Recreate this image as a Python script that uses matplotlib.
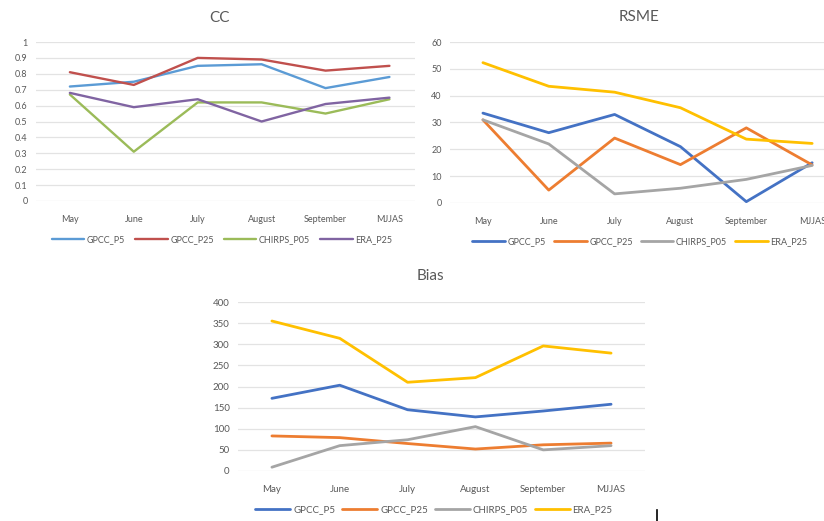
import numpy as np
import matplotlib.pyplot as plt
from matplotlib.lines import Line2D

plt.rcParams['font.family'] = ['Lato', 'DejaVu Sans']

months = ['May', 'June', 'July', 'August', 'September', 'MJJAS']
series = ['GPCC_P5', 'GPCC_P25', 'CHIRPS_P05', 'ERA_P25']

cc_gpcc_p5 = [0.72, 0.75, 0.85, 0.86, 0.71, 0.78]
cc_gpcc_p25 = [0.81, 0.73, 0.90, 0.89, 0.82, 0.85]
cc_chirps = [0.67, 0.31, 0.62, 0.62, 0.55, 0.64]
cc_era = [0.68, 0.59, 0.64, 0.50, 0.61, 0.65]

rsme_gpcc_p5 = [33.5, 26.2, 33.0, 21.0, 0.5, 15.0]
rsme_gpcc_p25 = [31.0, 4.8, 24.2, 14.3, 28.0, 14.2]
rsme_chirps = [31.0, 22.0, 3.4, 5.5, 8.8, 14.0]
rsme_era = [52.3, 43.5, 41.3, 35.5, 23.8, 22.2]

bias_gpcc_p5 = [172, 203, 145, 128, 142, 158]
bias_gpcc_p25 = [83, 79, 65, 52, 62, 66]
bias_chirps = [9, 60, 74, 105, 50, 60]
bias_era = [355, 314, 210, 221, 296, 279]

W, H = 824, 521
fig = plt.figure(figsize=(W / 100, H / 100), dpi=100)

txt = '#595959'
grid = '#E3E3E3'


def px_axes(x0, x1, ytop, ybot):
    # pixel box -> figure fraction
    return fig.add_axes([x0 / W, 1 - ybot / H, (x1 - x0) / W, (ybot - ytop) / H])


def draw(ax, data, colors, ylim, yticks, xlim, lw, fs, title, title_xy, leg_xy, ylabfmt, colsp=1.1):
    x = np.arange(len(months))
    for vals, c, name in zip(data, colors, series):
        ax.plot(x, vals, color=c, lw=lw, label=name, solid_capstyle='round', solid_joinstyle='round')
    ax.set_xlim(*xlim)
    ax.set_ylim(*ylim)
    ax.set_yticks(yticks)
    ax.set_yticklabels([ylabfmt(v) for v in yticks])
    ax.set_xticks(x)
    ax.set_xticklabels(months)
    ax.tick_params(length=0, labelsize=fs, colors=txt)
    ax.tick_params(axis='y', pad=6)
    ax.tick_params(axis='x', pad=10)
    for s in ax.spines.values():
        s.set_visible(False)
    ax.grid(axis='y', color=grid, lw=0.9)
    ax.set_axisbelow(True)
    ax.patch.set_alpha(0)
    fig.text(title_xy[0] / W, 1 - title_xy[1] / H, title, ha='center', va='center',
             fontsize=11, color=txt)
    fig.legend(handles=ax.get_lines(), loc='center', ncol=4, frameon=False,
               bbox_to_anchor=(leg_xy[0] / W, 1 - leg_xy[1] / H), fontsize=fs,
               handlelength=3.6, columnspacing=colsp, handletextpad=0.3, labelcolor=txt)


# CC
ax1 = px_axes(36, 415, 42, 201)
draw(ax1, [cc_gpcc_p5, cc_gpcc_p25, cc_chirps, cc_era],
     ['#5B9BD5', '#C0504D', '#9BBB59', '#8064A2'],
     (0, 1), np.round(np.arange(0, 1.01, 0.1), 1), (-0.53, 5.4), 1.7, 6.5,
     'CC', (220, 18), (222, 240), lambda v: '0' if v == 0 else ('1' if v == 1 else f'{v:g}'))

# RSME
ax2 = px_axes(450, 824, 42, 203)
draw(ax2, [rsme_gpcc_p5, rsme_gpcc_p25, rsme_chirps, rsme_era],
     ['#4472C4', '#ED7D31', '#A5A5A5', '#FFC000'],
     (0, 60), np.arange(0, 61, 10), (-0.5, 5.18), 2.0, 6.5,
     'RSME', (639, 17), (640, 242), lambda v: f'{v:g}', colsp=0.9)

# Bias
ax3 = px_axes(238, 645, 302, 471)
draw(ax3, [bias_gpcc_p5, bias_gpcc_p25, bias_chirps, bias_era],
     ['#4472C4', '#ED7D31', '#A5A5A5', '#FFC000'],
     (0, 400), np.arange(0, 401, 50), (-0.5, 5.5), 2.0, 7,
     'Bias', (430, 276), (434, 510), lambda v: f'{v:g}', colsp=0.7)

# text cursor left in the screenshot
fig.add_artist(Line2D([657 / W, 657 / W], [0, 11 / H], color='black', lw=1.2))

fig.savefig('out.png', dpi=100)
